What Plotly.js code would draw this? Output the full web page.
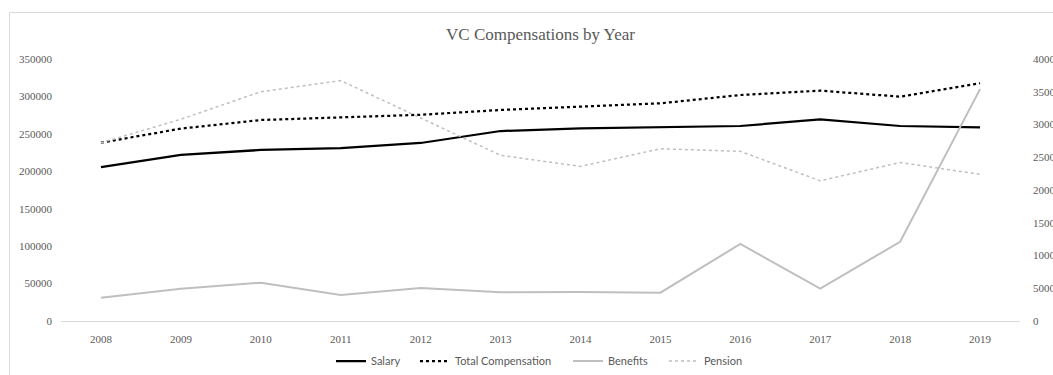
<!DOCTYPE html>
<html>
<head>
<meta charset="utf-8">
<script src="https://cdn.plot.ly/plotly-3.0.1.min.js"></script>
<style>
  html, body { margin: 0; padding: 0; background: #ffffff; overflow: hidden; }
  #chart { width: 1053px; height: 375px; }
</style>
</head>
<body>
<div id="chart"></div>
<script>
// Vice-chancellor pay, 2008-2019
const years = ['2008', '2009', '2010', '2011', '2012', '2013', '2014', '2015', '2016', '2017', '2018', '2019'];

// Left axis (0 - 350000)
const salary = [205700, 221800, 228500, 231000, 237800, 253800, 257400, 258700, 260500, 269400, 260500, 258700];
const totalCompensation = [238200, 257000, 268500, 272100, 275500, 281900, 286300, 290800, 301900, 307700, 299700, 317600];

// Right axis (0 - 40000)
const benefits = [3560, 4930, 5850, 3970, 5040, 4380, 4430, 4330, 11760, 4950, 12100, 35400];
const pension = [27200, 30800, 35000, 36700, 31000, 25300, 23600, 26300, 25900, 21400, 24200, 22400];

const leftTicks = [0, 50000, 100000, 150000, 200000, 250000, 300000, 350000];
const rightTicks = [0, 5000, 10000, 15000, 20000, 25000, 30000, 35000, 40000];

const labelColor = '#595959';
const serif = '"Liberation Serif", "DejaVu Serif", serif';
const legendFont = { family: 'Lato, "Liberation Sans", sans-serif', size: 11, color: labelColor };

const W = 1053, H = 375;

const traces = [
  {
    name: 'Salary', x: years, y: salary, yaxis: 'y', type: 'scatter', mode: 'lines',
    line: { color: '#000000', width: 2.25 }, legend: 'legend'
  },
  {
    name: 'Total Compensation', x: years, y: totalCompensation, yaxis: 'y', type: 'scatter', mode: 'lines',
    line: { color: '#000000', width: 2.25, dash: 'dot' }, legend: 'legend2'
  },
  {
    name: 'Benefits', x: years, y: benefits, yaxis: 'y2', type: 'scatter', mode: 'lines',
    line: { color: '#bfbfbf', width: 2 }, legend: 'legend3'
  },
  {
    name: 'Pension', x: years, y: pension, yaxis: 'y2', type: 'scatter', mode: 'lines',
    line: { color: '#bfbfbf', width: 1.5, dash: 'dot' }, legend: 'legend4'
  }
];

// one legend box per entry, laid out in a row under the axis
function legendAt(px) {
  return {
    orientation: 'h',
    x: px / W, xref: 'container', xanchor: 'left',
    y: 1 - 361 / H, yref: 'container', yanchor: 'middle',
    font: legendFont,
    bgcolor: 'rgba(0,0,0,0)',
    borderwidth: 0
  };
}

const layout = {
  width: W,
  height: H,
  margin: { l: 61, r: 33, t: 59, b: 54, pad: 0 },
  paper_bgcolor: '#ffffff',
  plot_bgcolor: '#ffffff',
  showlegend: true,
  title: {
    text: 'VC Compensations by Year',
    font: { family: serif, size: 17, color: labelColor },
    x: 0.5, xref: 'paper', xanchor: 'center',
    y: 1 - 34 / H, yref: 'container', yanchor: 'middle'
  },
  xaxis: {
    type: 'category',
    range: [-0.5, 11.5],
    showgrid: false,
    zeroline: false,
    showline: true,
    linecolor: '#d9d9d9',
    linewidth: 1,
    ticks: '',
    ticklabelstandoff: 8,
    tickfont: { family: serif, size: 11, color: labelColor },
    fixedrange: true
  },
  yaxis: {
    range: [0, 350000],
    tickvals: leftTicks,
    ticktext: leftTicks.map(String),
    showgrid: false,
    zeroline: false,
    showline: false,
    ticks: '',
    ticklabelstandoff: 8,
    tickfont: { family: serif, size: 11, color: labelColor },
    fixedrange: true
  },
  yaxis2: {
    overlaying: 'y',
    side: 'right',
    range: [0, 40000],
    tickvals: rightTicks,
    ticktext: rightTicks.map(String),
    showgrid: false,
    zeroline: false,
    showline: false,
    ticks: '',
    ticklabelstandoff: 12,
    tickfont: { family: serif, size: 11, color: labelColor },
    fixedrange: true
  },
  legend: legendAt(331),
  legend2: legendAt(415),
  legend3: legendAt(568),
  legend4: legendAt(664),
  shapes: [
    {
      // chart frame
      type: 'rect', xref: 'paper', yref: 'paper', layer: 'below',
      x0: -0.0537, x1: 1.2, y0: -0.4, y1: 1.1775,
      line: { color: '#d9d9d9', width: 1 },
      fillcolor: 'rgba(0,0,0,0)'
    }
  ]
};

Plotly.newPlot('chart', traces, layout, { displayModeBar: false, staticPlot: true });
</script>
</body>
</html>
